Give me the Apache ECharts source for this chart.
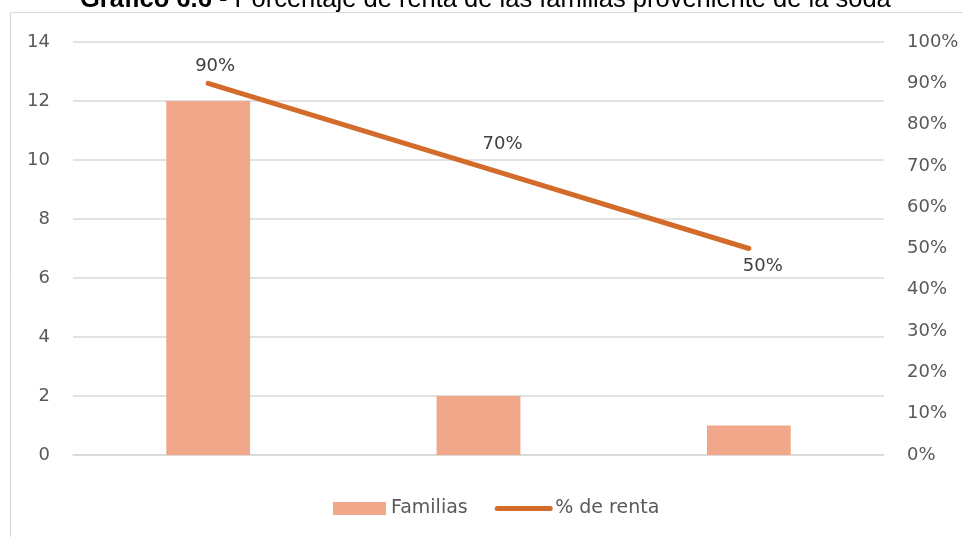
<!DOCTYPE html>
<html>
<head>
<meta charset="utf-8">
<script src="https://cdn.jsdelivr.net/npm/echarts@6/dist/echarts.min.js"></script>
<style>
  html, body { margin: 0; padding: 0; background: #fff; }
  #chart { width: 963px; height: 537px; }
</style>
</head>
<body>
<div id="chart"></div>
<script>
/* data */
var categories = ['1', '2', '3'];
var familias = [12, 2, 1];
var renta = [0.9, 0.7, 0.5];
var rentaLabelPos = ['top', 'top', 'bottom'];
var rentaLabelOffset = [[7, 0], [24, 0], [14, 0]];
var rentaLabelDist = [8, 13, 9];

var labelFont = '"DejaVu Sans", sans-serif';

var rentaData = renta.map(function (v, i) {
    return {
        value: v,
        label: {
            position: rentaLabelPos[i],
            offset: rentaLabelOffset[i],
            distance: rentaLabelDist[i]
        }
    };
});

var option = {
    backgroundColor: '#fff',
    animation: false,
    graphic: [
        {
            type: 'rect',
            shape: { x: 10.5, y: 12.5, width: 1000, height: 600 },
            style: { fill: 'none', stroke: '#d9d9d9', lineWidth: 1 }
        },
        {
            type: 'text',
            left: 80,
            top: -13,
            style: {
                text: '{b|Gráfico 6.6}{n| - Porcentaje de renta de las familias proveniente de la soda}',
                rich: {
                    b: { fontFamily: 'Liberation Sans, Arial', fontWeight: 'bold', fontSize: 25.5, fill: '#000' },
                    n: { fontFamily: 'Liberation Sans, Arial', fontSize: 25.5, fill: '#000' }
                }
            }
        }
    ],
    grid: {
        left: 73,
        right: 79,
        top: 42,
        bottom: 82
    },
    legend: {
        bottom: 14,
        left: 328,
        itemWidth: 53,
        itemHeight: 13,
        itemGap: 27,
        textStyle: {
            color: '#595959',
            fontSize: 19,
            fontFamily: labelFont
        },
        data: [
            { name: 'Familias', icon: 'rect' },
            {
                name: '% de renta',
                itemStyle: { opacity: 0 },
                lineStyle: { width: 5, cap: 'round', color: '#D36B2A' }
            }
        ]
    },
    xAxis: {
        type: 'category',
        data: categories,
        axisLine: { lineStyle: { color: '#d9d9d9', width: 1.5 } },
        axisTick: { show: false },
        axisLabel: { show: false }
    },
    yAxis: [
        {
            type: 'value',
            min: 0,
            max: 14,
            interval: 2,
            axisLine: { show: false },
            axisTick: { show: false },
            axisLabel: { color: '#595959', fontSize: 18, fontFamily: labelFont, margin: 23 },
            splitLine: { lineStyle: { color: '#d9d9d9', width: 1.5 } }
        },
        {
            type: 'value',
            min: 0,
            max: 1,
            interval: 0.1,
            axisLine: { show: false },
            axisTick: { show: false },
            splitLine: { show: false },
            axisLabel: {
                color: '#595959',
                fontSize: 18,
                fontFamily: labelFont,
                margin: 23,
                formatter: function (v) { return Math.round(v * 100) + '%'; }
            }
        }
    ],
    series: [
        {
            name: 'Familias',
            type: 'bar',
            data: familias,
            barWidth: '31%',
            itemStyle: { color: '#F1A78A' }
        },
        {
            name: '% de renta',
            type: 'line',
            yAxisIndex: 1,
            data: rentaData,
            symbol: 'circle',
            symbolSize: 0,
            showSymbol: true,
            lineStyle: { color: '#D36B2A', width: 5, cap: 'round' },
            itemStyle: { color: '#D36B2A' },
            label: {
                show: true,
                color: '#404040',
                fontSize: 18,
                fontFamily: labelFont,
                formatter: function (p) { return Math.round(p.value * 100) + '%'; }
            }
        }
    ]
};

var chart = echarts.init(document.getElementById('chart'));
chart.setOption(option);
</script>
</body>
</html>
